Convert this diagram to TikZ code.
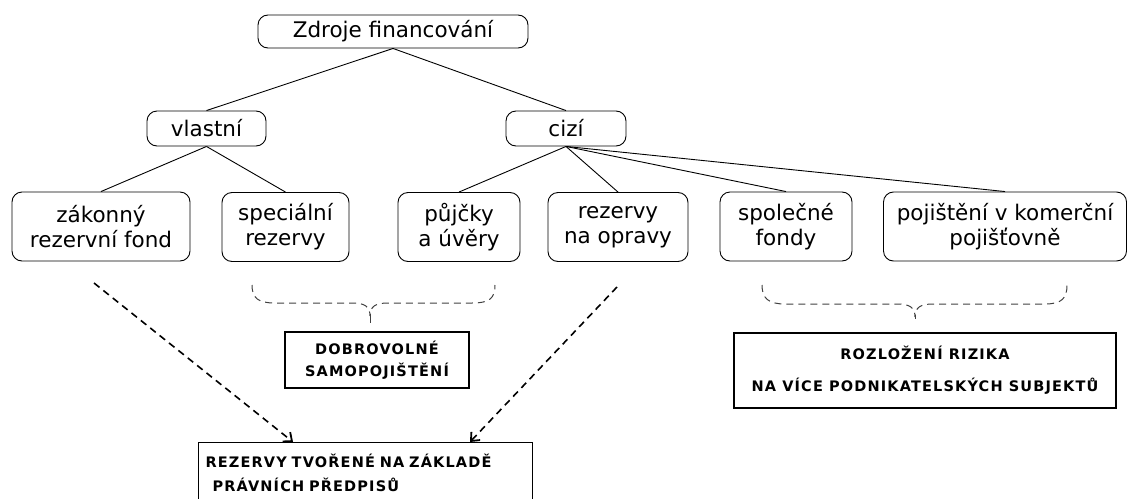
\documentclass[tikz,border=0pt]{standalone}
\usepackage{fontspec}
\setmainfont{DejaVu Sans}
\newfontfamily\capsfont[LetterSpace=8]{DejaVu Sans}
\usetikzlibrary{arrows.meta}
\begin{document}
\begin{tikzpicture}[x=1pt,y=-1pt,
  rbox/.style={draw, rounded corners=10pt, line width=0.9pt, align=center, inner sep=0pt, font=\fontsize{21.5}{25}\selectfont},
  sbox/.style={draw, line width=1.1pt, inner sep=0pt, font=\capsfont\bfseries\fontsize{14.5}{22}\selectfont},
  link/.style={line width=0.9pt},
  dasharrow/.style={line width=1.6pt, dash pattern=on 7pt off 5pt, -{Straight Barb[length=7pt,width=12pt,line width=1.8pt]}},
  bracestyle/.style={line width=1pt, draw=black!75, dash pattern=on 7pt off 5pt}
]
\useasboundingbox (0,0) rectangle (1129,498);

\node[rbox, minimum width=270pt, minimum height=33pt] (top) at (393,31.5) {Zdroje financování};
\node[rbox, minimum width=119pt, minimum height=35pt] (vl) at (206.5,128.5) {vlastní};
\node[rbox, minimum width=120pt, minimum height=35pt] (ci) at (566,128.5) {cizí};

\node[rbox, minimum width=178pt, minimum height=69pt] (zak) at (101,226.5) {zákonný\\rezervní fond};
\node[rbox, minimum width=127pt, minimum height=69pt] (spe) at (285.5,227) {speciální\\rezervy};
\node[rbox, minimum width=122pt, minimum height=69pt] (puj) at (459,227) {půjčky\\a úvěry};
\node[rbox, minimum width=140pt, minimum height=69pt] (rez) at (618,227) {rezervy\\na opravy};
\node[rbox, minimum width=132pt, minimum height=69pt] (spol) at (786,226.5) {společné\\fondy};
\node[rbox, minimum width=243pt, minimum height=69pt] (poj) at (1005,226.5) {pojištění v komerční\\pojišťovně};

\node[sbox, align=center, minimum width=184pt, minimum height=56pt] (dob) at (377,360) {DOBROVOLNÉ\\SAMOPOJIŠTĚNÍ};
\node[sbox, align=center, minimum width=382pt, minimum height=75pt, font=\capsfont\bfseries\fontsize{14.5}{32}\selectfont] (roz) at (925,370.5) {ROZLOŽENÍ RIZIKA\\NA VÍCE PODNIKATELSKÝCH SUBJEKTŮ};
\node[sbox, align=left, anchor=north west, text width=320pt, inner xsep=7pt, inner ysep=11pt, font=\capsfont\bfseries\fontsize{14.5}{24}\selectfont] (prav) at (198,442) {REZERVY TVOŘENÉ NA ZÁKLADĚ\\\hspace*{7pt}PRÁVNÍCH PŘEDPISŮ};

\draw[link] (top.south) -- (vl.north);
\draw[link] (top.south) -- (ci.north);
\draw[link] (vl.south) -- (zak.north);
\draw[link] (vl.south) -- (spe.north);
\draw[link] (ci.south) -- (puj.north);
\draw[link] (ci.south) -- (rez.north);
\draw[link] (ci.south) -- (spol.north);
\draw[link] (ci.south) -- (poj.north);

% braces
\draw[bracestyle] (252,285) .. controls (252,298) and (258,303) .. (275,303) -- (352,303) .. controls (364,303) and (370,306) .. (370,316) .. controls (370,306) and (376,303) .. (388,303) -- (472,303) .. controls (490,303) and (495,298) .. (495,285);
\draw[line width=1pt, black!75] (370,314) -- (370,323);
\draw[bracestyle] (762,285) .. controls (762,298) and (768,304) .. (785,304) -- (897,304) .. controls (909,304) and (915,307) .. (915,317) .. controls (915,307) and (921,304) .. (933,304) -- (1045,304) .. controls (1062,304) and (1067,298) .. (1067,285);
\draw[line width=1pt, black!75] (915,315) -- (915,319);

% dashed arrows
\coordinate (a1) at (94,283);
\coordinate (a2) at (617,287);
\draw[dasharrow] (a1) -- (prav.north west -| 293,0);
\draw[dasharrow] (a2) -- (prav.north west -| 470,0);
\end{tikzpicture}
\end{document}
